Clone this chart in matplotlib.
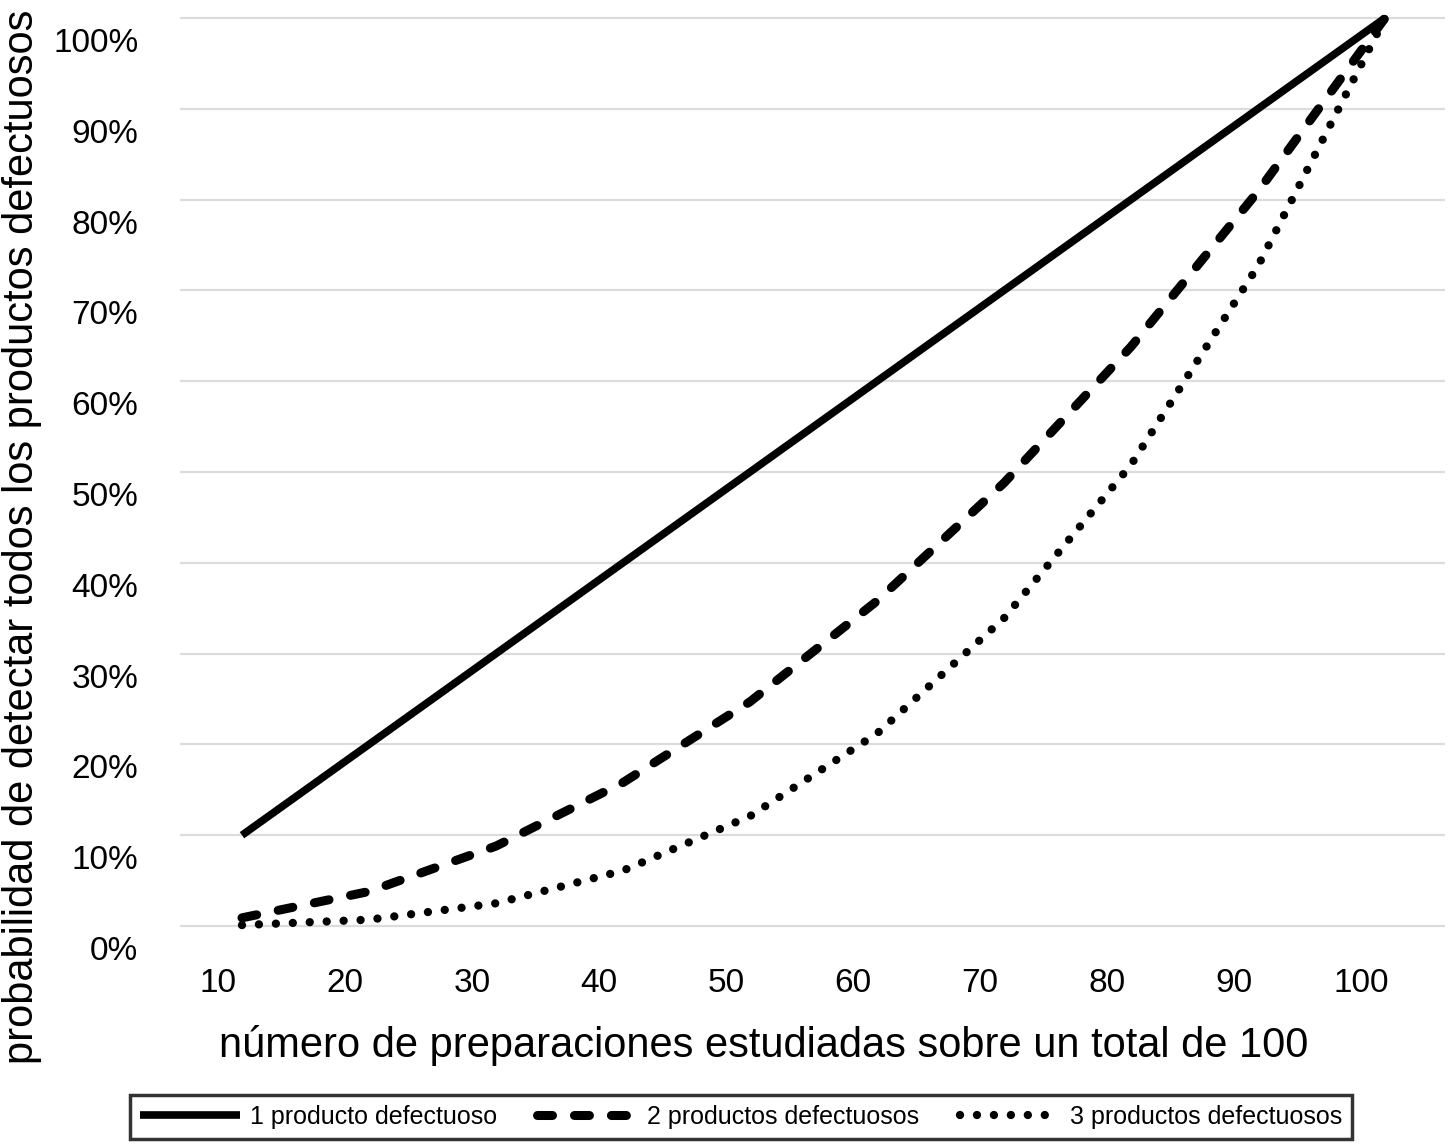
import matplotlib
matplotlib.use("Agg")
import matplotlib.pyplot as plt
from matplotlib.transforms import ScaledTranslation

# number of preparations studied (out of 100)
n_studied = [10, 20, 30, 40, 50, 60, 70, 80, 90, 100]

# probability of detecting all defective products
p_one = [0.10, 0.20, 0.30, 0.40, 0.50, 0.60, 0.70, 0.80, 0.90, 1.00]
p_two = [0.009, 0.038, 0.088, 0.158, 0.247, 0.358, 0.488, 0.638, 0.809, 1.00]
p_three = [0.001, 0.007, 0.025, 0.061, 0.121, 0.212, 0.339, 0.508, 0.727, 1.00]

y_ticks = [0.0, 0.1, 0.2, 0.3, 0.4, 0.5, 0.6, 0.7, 0.8, 0.9, 1.0]
y_tick_labels = ["0%", "10%", "20%", "30%", "40%", "50%",
                 "60%", "70%", "80%", "90%", "100%"]

series_labels = ["1 producto defectuoso", "2 productos defectuosos",
                 "3 productos defectuosos"]

plt.rcParams["font.family"] = ["Liberation Sans", "DejaVu Sans"]
plt.rcParams["lines.scale_dashes"] = False


def main():
    fig = plt.figure(figsize=(14.51, 11.47), dpi=100)
    ax = fig.add_axes([0.12405, 0.18483, 0.8718, 0.80645])

    ax.plot(n_studied, p_one, color="black", lw=5.5,
            solid_capstyle="butt", label=series_labels[0], clip_on=False)
    ax.plot(n_studied, p_two, color="black", lw=6.5,
            dashes=(10.8, 15.8), dash_capstyle="round",
            label=series_labels[1], clip_on=False)
    ax.plot(n_studied, p_three, color="black", lw=6,
            dashes=(0.01, 12.2), dash_capstyle="round",
            label=series_labels[2], clip_on=False)

    ax.set_xlim(5.12, 104.72)
    ax.set_ylim(-0.0099, 1.0088)

    # horizontal gridlines only, no spines
    ax.set_yticks(y_ticks)
    ax.set_yticklabels(y_tick_labels)
    ax.set_xticks(n_studied)
    ax.set_xticklabels([str(v) for v in n_studied])
    ax.grid(axis="y", color="#dcdcdc", lw=1.6)
    ax.set_axisbelow(True)
    for side in ax.spines.values():
        side.set_visible(False)
    ax.tick_params(axis="both", length=0, labelsize=24)
    ax.tick_params(axis="y", pad=30)
    ax.tick_params(axis="x", pad=24)

    # labels in the original sit a little off their gridlines / points
    for lab in ax.get_yticklabels():
        lab.set_transform(lab.get_transform() +
                          ScaledTranslation(0, -0.22, fig.dpi_scale_trans))
    for lab in ax.get_xticklabels():
        lab.set_transform(lab.get_transform() +
                          ScaledTranslation(-0.24, 0, fig.dpi_scale_trans))

    fig.text(22 / 1451, 1 - 537 / 1147,
             "probabilidad de detectar todos los productos defectuosos",
             rotation=90, ha="center", va="center", fontsize=30)
    fig.text(764 / 1451, 1 - 1045 / 1147,
             "número de preparaciones estudiadas sobre un total de 100",
             ha="center", va="center", fontsize=30)

    leg = fig.legend(loc="center", bbox_to_anchor=(0.5107, 0.026), ncol=3,
                     fontsize=18, frameon=True, fancybox=False,
                     handlelength=4.0, handletextpad=0.4, columnspacing=1.6,
                     borderpad=0.4)
    leg.get_frame().set_edgecolor("black")
    leg.get_frame().set_linewidth(2.5)

    fig.savefig("out.png", dpi=100, facecolor="white")


if __name__ == "__main__":
    main()
